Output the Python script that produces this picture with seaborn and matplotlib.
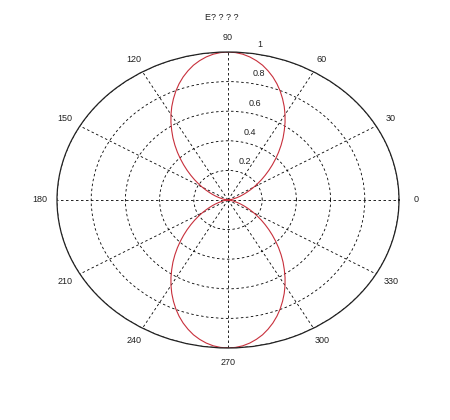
import numpy as np
import pandas as pd
import matplotlib
matplotlib.use("Agg")
import matplotlib.pyplot as plt
import matplotlib.transforms as mtransforms
import seaborn as sns

# Pattern values, first quadrant (0..90 deg, every 2.5 deg).
quarter_deg = [0, 2.5, 5, 7.5, 10, 12.5, 15, 17.5, 20, 22.5, 25, 27.5, 30, 32.5, 35, 37.5,
               40, 42.5, 45, 47.5, 50, 52.5, 55, 57.5, 60, 62.5, 65, 67.5, 70, 72.5, 75,
               77.5, 80, 82.5, 85, 87.5, 90]
quarter_r = [0.0, 0.001, 0.005, 0.011, 0.02, 0.03, 0.04, 0.058, 0.077, 0.097, 0.12, 0.146,
             0.175, 0.205, 0.239, 0.274, 0.312, 0.352, 0.394, 0.438, 0.483, 0.529, 0.574,
             0.621, 0.667, 0.712, 0.755, 0.797, 0.836, 0.872, 0.904, 0.933, 0.956, 0.975,
             0.989, 0.997, 1.0]

ring_values = [0.2, 0.4, 0.6, 0.8, 1.0]
ring_labels = ["0.2", "0.4", "0.6", "0.8", "1"]
spoke_deg = [0, 30, 60, 90, 120, 150, 180, 210, 240, 270, 300, 330]
spoke_labels = ["0", "30", "60", "90", "120", "150", "180", "210", "240", "270", "300", "330"]
title_text = "E? ? ? ?"

# Pattern is symmetric about both axes: mirror the quadrant round the circle.
half_deg = quarter_deg + [180 - d for d in quarter_deg[::-1][1:]]
half_r = quarter_r + quarter_r[::-1][1:]
full_deg = half_deg + [180 + d for d in half_deg[1:]]
full_r = half_r + half_r[1:]
pattern = pd.DataFrame({"theta": np.deg2rad(full_deg), "r": full_r})

sns.set_style("white")
plt.rcParams['font.family'] = ['Liberation Sans', 'DejaVu Sans']
txt_color = "#222222"

fig = plt.figure(figsize=(4.5, 4.2), dpi=100)
ax = fig.add_axes([57 / 450, 72 / 420, 342 / 450, 296 / 420], projection='polar')
ax.set_aspect('auto')

sns.lineplot(data=pattern, x="theta", y="r", sort=False, estimator=None,
             color="#c8303c", linewidth=0.8, ax=ax)

ax.set_ylim(0, 1)
ax.set_rgrids(ring_values, [""] * len(ring_values))
ax.set_thetagrids(spoke_deg, [""] * len(spoke_deg))
ax.grid(True, color="black", linestyle=(0, (3, 3)), linewidth=0.6)
ax.spines['polar'].set_color(txt_color)
ax.spines['polar'].set_linewidth(0.9)
ax.set_xlabel("")
ax.set_ylabel("")

# angle labels centred just outside the rim, matlab style
for d, lab in zip(spoke_deg, spoke_labels):
    ax.text(np.deg2rad(d), 1.1, lab, ha="center", va="center", fontsize=6.5,
            color=txt_color)

# ring labels beside the rings near 82 deg
shift = mtransforms.ScaledTranslation(6 / 100, 9 / 100, fig.dpi_scale_trans)
for rv, lab in zip(ring_values, ring_labels):
    ax.text(np.deg2rad(82), rv, lab, ha="left", va="center", fontsize=6.5,
            color=txt_color, transform=ax.transData + shift)

fig.text(222 / 450, 1 - 18 / 420, title_text, ha="center", va="center",
         fontsize=6.5, color=txt_color)

fig.savefig("out.png", dpi=100)
